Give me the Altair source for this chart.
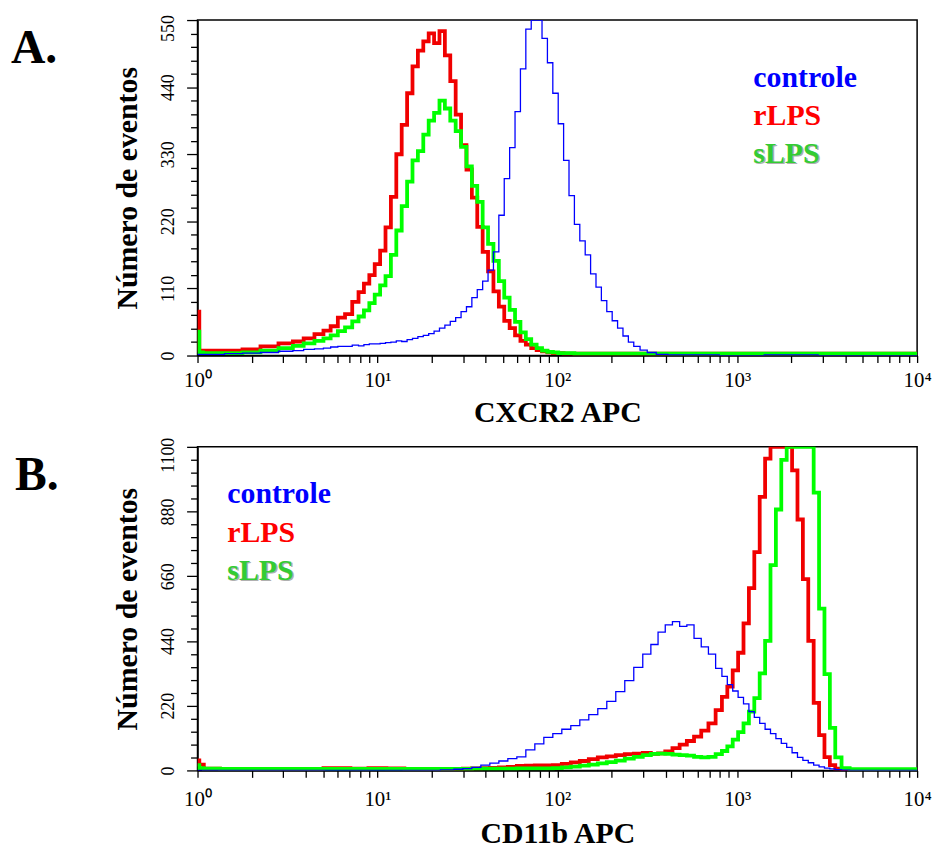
import altair as alt
import pandas as pd

FONT = "Liberation Serif"
SERIES = ["controle", "rLPS", "sLPS"]
LINE_COLORS = {"controle": "#0000FF", "rLPS": "#F00000", "sLPS": "#00FF00"}
LINE_WIDTHS = {"controle": 1.3, "rLPS": 3.8, "sLPS": 3.8}
TEXT_COLORS = {"controle": "#0000FF", "rLPS": "#FF0000", "sLPS": "#33CC33"}
DRAW_ORDER = ["rLPS", "sLPS", "controle"]

X_TICK_LABELS = ["10\u2070", "10\u00b9", "10\u00b2", "10\u00b3", "10\u2074"]
X_DECADES = [1, 10, 100, 1000, 10000]
A_Y_LABELS = [0, 110, 220, 330, 440, 550]
B_Y_LABELS = [0, 220, 440, 660, 880, 1100]

# ---------------- Panel A : CXCR2 APC (log10 of fluorescence, counts) ----------
A_LOG10 = [0.00, 0.02, 0.04, 0.10, 0.20, 0.30, 0.40, 0.50,
           0.56, 0.62, 0.68,
           0.72, 0.76, 0.80, 0.84, 0.88,
           0.91, 0.94, 0.97, 1.00,
           1.03, 1.06, 1.09, 1.12, 1.15, 1.18, 1.21, 1.24, 1.27, 1.30,
           1.33, 1.36, 1.39, 1.42, 1.45, 1.48, 1.51, 1.54, 1.57, 1.60,
           1.63, 1.66, 1.69, 1.72, 1.75, 1.78, 1.81, 1.84, 1.87, 1.90,
           1.93, 1.96, 1.99, 2.02, 2.05, 2.08, 2.11, 2.14, 2.17, 2.20,
           2.23, 2.26, 2.29, 2.32, 2.35, 2.38, 2.41, 2.44,
           2.48, 2.52, 2.58, 2.65, 2.80, 3.00, 3.30, 3.60, 4.00]
A_CONTROLE = [2, 2, 2, 2, 3, 4, 5, 7,
              8, 10, 11,
              12, 14, 15, 15, 17,
              16, 18, 19, 19,
              20, 21, 22, 24, 23, 26, 28, 31, 33, 36,
              40, 45, 50, 56, 62, 72, 80, 95, 108, 122,
              140, 170, 230, 290, 341, 400, 470, 535, 550, 550,
              520, 480, 430, 380, 320, 262, 215, 188, 165, 134,
              112, 90, 72, 57, 45, 32, 22, 15,
              9, 5, 2, 1, 1, 0, 1, 0, 0]
A_RLPS = [72, 8, 8, 8, 8, 10, 15, 20,
          23, 28, 35,
          41, 48, 62, 68, 88,
          104, 118, 132, 150,
          172, 210, 260, 330, 378, 430, 474, 500, 515, 528,
          512, 532, 492, 450, 395, 345, 305, 259, 211, 170,
          138, 105, 80, 57, 45, 33, 24, 18, 12, 9,
          7, 5, 4, 4, 3, 3, 3, 3, 3, 3,
          3, 3, 3, 3, 3, 3, 3, 3,
          3, 3, 3, 3, 3, 3, 3, 3, 3]
A_SLPS = [39, 5, 4, 4, 4, 5, 8, 12,
          16, 20, 24,
          28, 33, 40, 46, 56,
          64, 74, 86, 100,
          115, 130, 165, 205, 245, 285, 320, 335, 362, 385,
          398, 418, 405, 385, 368, 342, 310, 278, 252, 210,
          183, 155, 122, 95, 75, 55, 38, 27, 18, 12,
          8, 6, 5, 4, 4, 4, 3, 3, 3, 3,
          3, 3, 3, 3, 3, 3, 3, 3,
          3, 3, 3, 3, 3, 3, 3, 3, 3]

# ---------------- Panel B : CD11b APC ----------------
B_LOG10 = [0.00, 0.02, 0.05, 0.20, 0.40, 0.60, 0.80, 0.90,
           1.00, 1.10, 1.20, 1.30, 1.40,
           1.45, 1.50, 1.55, 1.60, 1.65, 1.70, 1.75, 1.80, 1.85, 1.90, 1.95,
           2.00, 2.05, 2.10, 2.15, 2.20, 2.25, 2.30, 2.35, 2.40, 2.45, 2.50,
           2.54, 2.58, 2.62, 2.66, 2.70, 2.74, 2.78, 2.82, 2.86, 2.90,
           2.93, 2.96, 2.99, 3.02, 3.05, 3.08, 3.11, 3.14, 3.17, 3.20, 3.23,
           3.26, 3.29, 3.32, 3.35, 3.38, 3.41, 3.44, 3.47, 3.50, 3.53, 3.56,
           3.60, 3.65, 3.75, 3.90, 4.00]
B_CONTROLE = [0, 0, 0, 0, 0, 0, 0, 0,
              0, 0, 0, 0, 2,
              4, 6, 10, 18, 25, 32, 40, 46, 70, 90, 112,
              125, 140, 152, 172, 190, 210, 235, 268, 305, 350, 395,
              428, 470, 495, 506, 490, 495, 449, 420, 395, 347,
              320, 292, 270, 248, 226, 200, 180, 160, 140, 125, 108,
              92, 78, 60, 44, 34, 26, 18, 12, 8, 5, 3,
              1, 0, 0, 0, 0]
B_RLPS = [34, 20, 6, 5, 4, 3, 8, 6,
          8, 7, 5, 4, 4,
          5, 6, 7, 8, 9, 10, 12, 15, 16, 17, 17,
          18, 22, 27, 32, 38, 44, 48, 52, 55, 57, 60,
          56, 58, 65, 76, 88, 100, 115, 135, 160, 205,
          250, 285, 340, 400, 500, 620, 742, 930, 1060, 1100, 1100,
          1100, 1100, 1020, 853, 650, 440, 230, 120, 45, 18, 6,
          2, 1, 2, 1, 2]
B_SLPS = [18, 8, 6, 5, 5, 5, 5, 5,
          5, 5, 5, 5, 5,
          5, 5, 6, 6, 6, 6, 6, 7, 7, 7, 7,
          8, 10, 13, 16, 20, 24, 28, 33, 40, 46, 52,
          56, 57, 56, 54, 52, 50, 46, 44, 46, 55,
          66, 82, 105, 130, 160, 200, 246, 330, 440, 698, 887,
          1056, 1100, 1100, 1100, 1100, 1100, 944, 550, 327, 145, 44,
          8, 4, 4, 4, 4]

WIDTH = 725
X_TICKS = [m * 10 ** d for d in range(4) for m in range(1, 10)] + [10000]
X_LABEL_EXPR = " : ".join(
    f"datum.value === {v} ? '{t}'" for v, t in zip(X_DECADES, X_TICK_LABELS)
) + " : ''"


def frame(logs, values):
    rows = []
    for name, vals in zip(SERIES, values):
        assert len(vals) == len(logs), name
        for lg, v in zip(logs, vals):
            rows.append({"fluor": 10 ** lg, "count": v, "series": name})
    return pd.DataFrame(rows)


def panel(df, ymax, ylabels, height, xtitle, letter, letter_dx, legend_dx,
          legend_ys, xlabel_pad, xtitle_y):
    minor = ymax // 25
    y_ticks = list(range(0, ymax + 1, minor))
    major = ylabels[1]
    x_enc = alt.X(
        "fluor:Q",
        scale=alt.Scale(type="log", domain=[1, 10000], nice=False),
        axis=alt.Axis(
            values=X_TICKS, labelExpr=X_LABEL_EXPR, labelFont=FONT,
            labelFontSize=21, labelColor="black", labelBaseline="alphabetic",
            labelAlign="center", labelPadding=xlabel_pad, labelOverlap=False,
            tickSize=7, tickColor="black", tickWidth=1.3,
            domainColor="black", domainWidth=1.5, grid=False,
            title=xtitle, titleFont=FONT, titleFontSize=30,
            titleFontWeight="bold", titleColor="black",
            titleX=WIDTH / 2, titleY=xtitle_y, titleAlign="center",
            titleBaseline="alphabetic"),
    )
    y_enc = alt.Y(
        "count:Q",
        scale=alt.Scale(domain=[0, ymax], nice=False, zero=True),
        axis=alt.Axis(
            values=y_ticks,
            labelExpr=f"datum.value % {major} === 0 ? format(datum.value, 'd') : ''",
            labelAngle=270, labelAlign="center", labelBaseline="alphabetic",
            labelFont=FONT, labelFontSize=18, labelColor="black",
            labelPadding=13, labelOverlap=False,
            labelOffset={"condition": {"test": f"datum.value === {ymax}", "value": 8}, "value": 0},
            tickSize={"condition": {"test": f"datum.value % {major} === 0", "value": 11}, "value": 7},
            tickColor="black", tickWidth=1.3,
            domainColor="black", domainWidth=1.5, grid=False,
            title="Número de eventos", titleFont=FONT, titleFontSize=30,
            titleFontWeight="bold", titleColor="black", titleAngle=270,
            titleX=-61, titleY=height / 2, titleAlign="center",
            titleBaseline="alphabetic"),
    )
    layers = []
    for name in DRAW_ORDER:
        layers.append(
            alt.Chart(df).transform_filter(alt.datum.series == name)
            .mark_line(interpolate="step", color=LINE_COLORS[name],
                       strokeWidth=LINE_WIDTHS[name], clip=True)
            .encode(x=x_enc, y=y_enc)
        )
    for i, name in enumerate(SERIES):
        if name == "sLPS":
            layers.append(
                alt.Chart(pd.DataFrame({"label": [name]}))
                .mark_text(align="left", baseline="alphabetic", font=FONT,
                           fontSize=30, fontWeight="bold", color="#B0B0B0")
                .encode(x=alt.value(legend_dx + 1.5), y=alt.value(legend_ys[i] + 1.5),
                        text="label:N")
            )
        layers.append(
            alt.Chart(pd.DataFrame({"label": [name]}))
            .mark_text(align="left", baseline="alphabetic", font=FONT,
                       fontSize=30, fontWeight="bold", color=TEXT_COLORS[name])
            .encode(x=alt.value(legend_dx), y=alt.value(legend_ys[i]),
                    text="label:N")
        )
    layers.append(
        alt.Chart(pd.DataFrame({"label": [letter]}))
        .mark_text(align="left", baseline="alphabetic", font=FONT,
                   fontSize=48, fontWeight="bold", color="black")
        .encode(x=alt.value(letter_dx), y=alt.value(43), text="label:N")
    )
    return alt.layer(*layers).properties(width=WIDTH, height=height)


panel_a = panel(frame(A_LOG10, [A_CONTROLE, A_RLPS, A_SLPS]), 550, A_Y_LABELS,
                338, "CXCR2 APC", "A.", -188, 560, [67, 106, 144], 24, 66)
panel_b = panel(frame(B_LOG10, [B_CONTROLE, B_RLPS, B_SLPS]), 1100, B_Y_LABELS,
                326, "CD11b APC", "B.", -184, 30, [57, 96, 134], 28, 73)

chart = (
    alt.vconcat(panel_a, panel_b, spacing=8)
    .properties(padding={"left": 10, "top": 10, "right": 0, "bottom": 0})
    .configure(background="white",
               view=alt.ViewConfig(stroke="black", strokeWidth=1.5))
)
chart.save("out.html", embed_options={"renderer": "svg", "actions": False})
